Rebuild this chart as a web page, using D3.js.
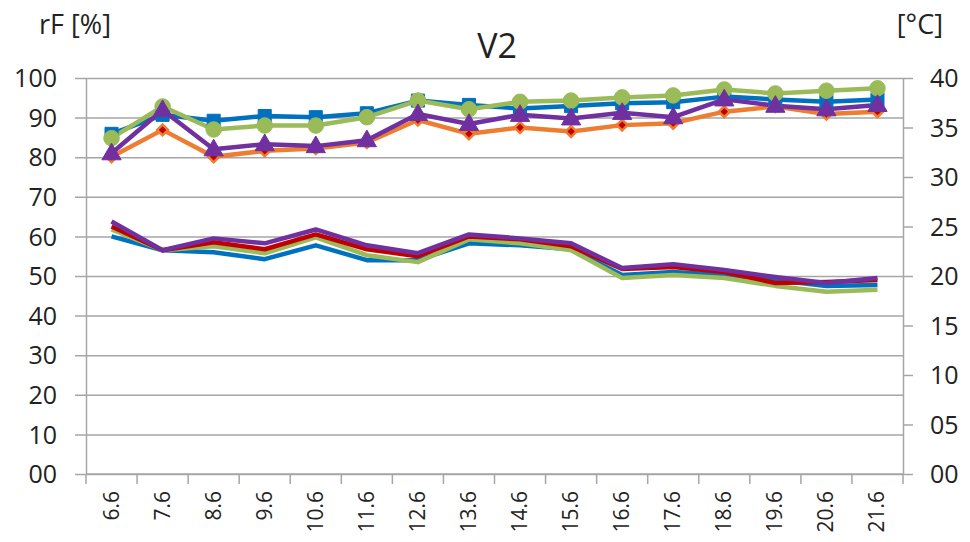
<!DOCTYPE html>
<html>
<head>
<meta charset="utf-8">
<script src="https://cdn.jsdelivr.net/npm/d3@7"></script>
<style>
  html, body { margin: 0; padding: 0; background: #fff; }
  svg { display: block; }
  text { font-family: "Open Sans", "DejaVu Sans", sans-serif; fill: #222; }
</style>
</head>
<body>
<svg id="chart" width="970" height="542"></svg>
<script>
// ---- data ----
const categories = ["6.6","7.6","8.6","9.6","10.6","11.6","12.6","13.6","14.6","15.6","16.6","17.6","18.6","19.6","20.6","21.6"];

// relative humidity rF [%] (left axis)
const rhBlue   = [85.9, 90.7, 89.2, 90.4, 90.1, 91.1, 94.3, 93.2, 92.3, 92.9, 93.6, 93.9, 95.3, 94.6, 94.0, 94.6];
const rhOrange = [80.1, 86.9, 80.1, 81.6, 82.2, 83.7, 89.4, 85.9, 87.5, 86.5, 88.1, 88.6, 91.5, 92.8, 90.9, 91.5];
const rhGreen  = [84.8, 92.8, 87.0, 88.0, 88.0, 90.1, 94.3, 92.1, 94.0, 94.3, 95.1, 95.6, 97.1, 96.1, 96.8, 97.4];
const rhPurple = [81.0, 91.9, 82.0, 83.3, 82.8, 84.3, 90.9, 88.4, 90.7, 89.8, 91.2, 90.1, 94.6, 93.0, 92.1, 93.2];

// temperature [°C] (right axis)
const tBlue   = [24.0, 22.6, 22.4, 21.7, 23.1, 21.6, 21.6, 23.3, 23.1, 22.7, 20.1, 20.4, 20.1, 19.6, 19.0, 19.1];
const tRed    = [25.0, 22.6, 23.4, 22.7, 24.2, 22.7, 22.0, 24.0, 23.7, 23.0, 20.7, 20.9, 20.4, 19.3, 19.4, 19.6];
const tGreen  = [24.7, 22.6, 23.0, 22.3, 23.9, 22.1, 21.4, 23.7, 23.3, 22.6, 19.8, 20.1, 19.8, 19.0, 18.4, 18.6];
const tPurple = [25.5, 22.6, 23.8, 23.3, 24.7, 23.1, 22.3, 24.2, 23.8, 23.3, 20.8, 21.2, 20.6, 19.9, 19.3, 19.8];

const leftTicks  = [0,10,20,30,40,50,60,70,80,90,100];
const rightTicks = [0,5,10,15,20,25,30,35,40];

const title = "V2";
const leftTitle = "rF [%]";
const rightTitle = "[°C]";

// ---- layout ----
const svg = d3.select("#chart");
const L = 86, R = 903, T = 78, B = 474;
const gridColor = "#a6a6a6";

const x = d3.scaleBand().domain(categories).range([L, R]).padding(0);
const yL = d3.scaleLinear().domain([0, 100]).range([B, T]);
const yR = d3.scaleLinear().domain([0, 40]).range([B, T]);
const cx = c => x(c) + x.bandwidth() / 2;

// gridlines + left ticks
const leftAxis = d3.axisLeft(yL).tickValues(leftTicks).tickFormat(d3.format("02d"))
  .tickSizeInner(-(R - L)).tickSizeOuter(0).tickPadding(0);
const gL = svg.append("g").attr("transform", `translate(${L},0)`).call(leftAxis);
gL.select(".domain").attr("stroke", gridColor).attr("stroke-width", 1.5);
gL.selectAll(".tick line").attr("stroke", gridColor).attr("stroke-width", 1.5)
  .attr("x1", -11).attr("x2", R - L);
gL.selectAll(".tick text").attr("x", -29).attr("dy", "0.35em")
  .style("font-size", "25px").attr("fill", "#222");

// right axis
const rightAxis = d3.axisRight(yR).tickValues(rightTicks).tickFormat(d3.format("02d"))
  .tickSizeInner(10).tickSizeOuter(0).tickPadding(0);
const gR = svg.append("g").attr("transform", `translate(${R},0)`).call(rightAxis);
gR.select(".domain").attr("stroke", gridColor).attr("stroke-width", 1.5);
gR.selectAll(".tick line").attr("stroke", gridColor).attr("stroke-width", 1.5);
gR.selectAll(".tick text").attr("x", 27).attr("dy", "0.35em")
  .style("font-size", "25px").attr("fill", "#222");

// bottom axis
const gB = svg.append("g").attr("transform", `translate(0,${B})`);
gB.append("line").attr("x1", L).attr("x2", R).attr("y1", 0).attr("y2", 0)
  .attr("stroke", gridColor).attr("stroke-width", 1.5);
const bounds = categories.map(c => x(c)).concat([x(categories[categories.length - 1]) + x.bandwidth()]);
gB.selectAll("line.bt").data(bounds).enter().append("line").attr("class", "bt")
  .attr("x1", d => d).attr("x2", d => d).attr("y1", 0).attr("y2", 10)
  .attr("stroke", gridColor).attr("stroke-width", 1.5);
gB.selectAll("text.xl").data(categories).enter().append("text").attr("class", "xl")
  .attr("transform", d => `translate(${cx(d) + 7},17) rotate(-90)`)
  .attr("text-anchor", "end")
  .style("font-size", "21px")
  .text(d => d);

// titles
svg.append("text").attr("x", 497).attr("y", 58).attr("text-anchor", "middle")
  .style("font-size", "34px").text(title);
svg.append("text").attr("x", 39).attr("y", 34).style("font-size", "27px").text(leftTitle);
svg.append("text").attr("x", 943).attr("y", 34).attr("text-anchor", "end")
  .style("font-size", "27px").text(rightTitle);

// ---- temperature lines (no markers) ----
const tSeries = [
  { v: tBlue, c: "#0070c0" },
  { v: tGreen, c: "#9bbb59" },
  { v: tRed, c: "#c00000" },
  { v: tPurple, c: "#7030a0" }
];
const lineR = d3.line().x((d, i) => cx(categories[i])).y(d => yR(d));
tSeries.forEach(s => {
  svg.append("path").datum(s.v).attr("d", lineR).attr("fill", "none")
    .attr("stroke", s.c).attr("stroke-width", 4.5).attr("stroke-linejoin", "round");
});

// ---- humidity lines with markers ----
const lineL = d3.line().x((d, i) => cx(categories[i])).y(d => yL(d));
const rhSeries = [
  { v: rhBlue, c: "#0070c0", sym: d3.symbolSquare, size: 170, fill: "#0070c0", rot: 0 },
  { v: rhOrange, c: "#ed7d31", sym: d3.symbolSquare, size: 60, fill: "#c00000", rot: 45 },
  { v: rhGreen, c: "#9bbb59", sym: d3.symbolCircle, size: 190, fill: "#9bbb59", rot: 0 },
  { v: rhPurple, c: "#7030a0", sym: d3.symbolTriangle, size: 160, fill: "#7030a0", rot: 0 }
];
rhSeries.forEach(s => {
  svg.append("path").datum(s.v).attr("d", lineL).attr("fill", "none")
    .attr("stroke", s.c).attr("stroke-width", 4.5).attr("stroke-linejoin", "round");
});
rhSeries.forEach(s => {
  svg.append("g").selectAll("path").data(s.v).enter().append("path")
    .attr("d", d3.symbol().type(s.sym).size(s.size))
    .attr("transform", (d, i) => `translate(${cx(categories[i])},${yL(d) + (s.sym === d3.symbolTriangle ? 1 : 0)}) rotate(${s.rot})`)
    .attr("fill", s.fill)
    .attr("stroke", s.c).attr("stroke-width", s.rot ? 2.5 : 1);
});
</script>
</body>
</html>
